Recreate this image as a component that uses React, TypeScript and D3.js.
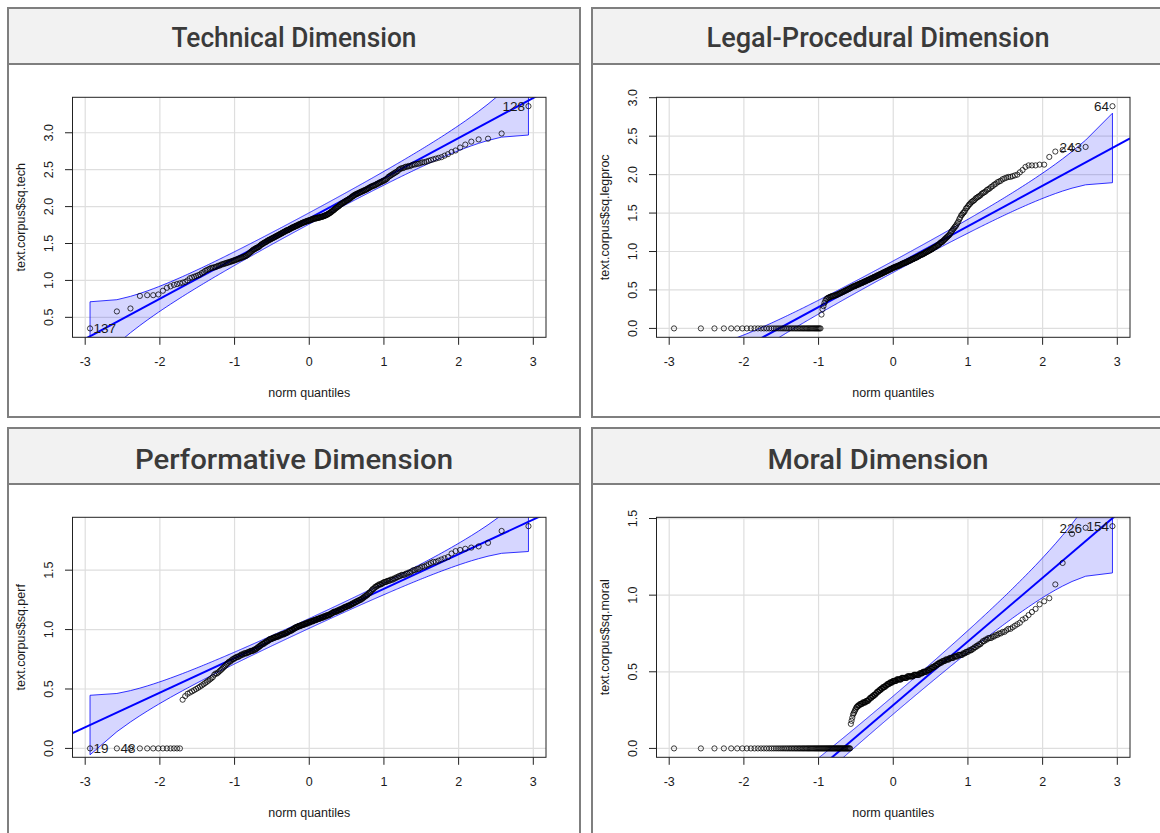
import React from "react"
import * as d3 from "d3"

// sorted sample values (n = 300 each)
const techValues = [
  0.35, 0.58, 0.62, 0.79, 0.80, 0.80, 0.81, 0.86, 0.90, 0.92,
  0.94, 0.95, 0.96, 0.97, 0.98, 1.00, 1.03, 1.04, 1.05, 1.06,
  1.07, 1.08, 1.10, 1.11, 1.13, 1.14, 1.15, 1.16, 1.17, 1.17,
  1.18, 1.18, 1.19, 1.20, 1.20, 1.21, 1.22, 1.22, 1.23, 1.23,
  1.24, 1.24, 1.25, 1.25, 1.26, 1.26, 1.27, 1.27, 1.28, 1.28,
  1.29, 1.29, 1.30, 1.30, 1.31, 1.31, 1.32, 1.32, 1.33, 1.33,
  1.34, 1.35, 1.36, 1.37, 1.38, 1.39, 1.40, 1.41, 1.42, 1.42,
  1.43, 1.44, 1.44, 1.45, 1.45, 1.46, 1.47, 1.48, 1.49, 1.49,
  1.50, 1.51, 1.51, 1.52, 1.52, 1.53, 1.54, 1.54, 1.55, 1.55,
  1.56, 1.56, 1.57, 1.57, 1.58, 1.58, 1.59, 1.59, 1.60, 1.60,
  1.61, 1.61, 1.62, 1.62, 1.63, 1.63, 1.64, 1.64, 1.65, 1.65,
  1.66, 1.66, 1.67, 1.67, 1.68, 1.68, 1.68, 1.69, 1.69, 1.70,
  1.70, 1.71, 1.71, 1.72, 1.72, 1.72, 1.73, 1.73, 1.74, 1.74,
  1.74, 1.75, 1.75, 1.76, 1.76, 1.76, 1.77, 1.77, 1.78, 1.78,
  1.78, 1.79, 1.79, 1.79, 1.80, 1.80, 1.80, 1.81, 1.81, 1.81,
  1.81, 1.82, 1.82, 1.82, 1.83, 1.83, 1.83, 1.84, 1.84, 1.84,
  1.84, 1.84, 1.85, 1.85, 1.85, 1.85, 1.85, 1.86, 1.86, 1.86,
  1.86, 1.87, 1.87, 1.87, 1.88, 1.88, 1.88, 1.89, 1.89, 1.90,
  1.90, 1.91, 1.91, 1.92, 1.93, 1.93, 1.94, 1.95, 1.95, 1.96,
  1.97, 1.98, 1.98, 1.99, 2.00, 2.00, 2.01, 2.02, 2.03, 2.03,
  2.04, 2.05, 2.05, 2.06, 2.06, 2.07, 2.08, 2.08, 2.09, 2.09,
  2.10, 2.11, 2.11, 2.12, 2.13, 2.14, 2.14, 2.15, 2.16, 2.16,
  2.17, 2.17, 2.18, 2.18, 2.19, 2.19, 2.20, 2.20, 2.21, 2.21,
  2.22, 2.22, 2.23, 2.23, 2.24, 2.25, 2.25, 2.26, 2.27, 2.27,
  2.28, 2.28, 2.29, 2.29, 2.30, 2.31, 2.31, 2.32, 2.33, 2.33,
  2.34, 2.35, 2.35, 2.36, 2.37, 2.38, 2.40, 2.41, 2.42, 2.43,
  2.44, 2.45, 2.46, 2.47, 2.48, 2.50, 2.51, 2.52, 2.52, 2.53,
  2.54, 2.54, 2.55, 2.55, 2.56, 2.57, 2.57, 2.58, 2.58, 2.59,
  2.60, 2.60, 2.61, 2.62, 2.63, 2.64, 2.65, 2.66, 2.67, 2.69,
  2.71, 2.74, 2.76, 2.80, 2.84, 2.88, 2.91, 2.92, 2.99, 3.36,
]

const legprocValues = [
  0, 0, 0, 0, 0, 0, 0, 0, 0, 0,
  0, 0, 0, 0, 0, 0, 0, 0, 0, 0,
  0, 0, 0, 0, 0, 0, 0, 0, 0, 0,
  0, 0, 0, 0, 0, 0, 0, 0, 0, 0,
  0, 0, 0, 0, 0, 0, 0, 0, 0, 0,
  0.18, 0.25, 0.29, 0.33, 0.36, 0.38, 0.39, 0.40, 0.40, 0.41,
  0.41, 0.42, 0.42, 0.42, 0.43, 0.43, 0.43, 0.44, 0.44, 0.45,
  0.45, 0.46, 0.46, 0.47, 0.47, 0.48, 0.48, 0.49, 0.49, 0.50,
  0.50, 0.51, 0.51, 0.52, 0.52, 0.53, 0.53, 0.54, 0.54, 0.55,
  0.55, 0.55, 0.56, 0.56, 0.57, 0.57, 0.57, 0.58, 0.58, 0.59,
  0.59, 0.59, 0.60, 0.60, 0.61, 0.61, 0.61, 0.62, 0.62, 0.63,
  0.63, 0.63, 0.64, 0.64, 0.65, 0.65, 0.65, 0.66, 0.66, 0.67,
  0.67, 0.67, 0.68, 0.68, 0.69, 0.69, 0.69, 0.70, 0.70, 0.71,
  0.71, 0.71, 0.72, 0.72, 0.73, 0.73, 0.73, 0.74, 0.74, 0.75,
  0.75, 0.75, 0.76, 0.76, 0.77, 0.77, 0.77, 0.78, 0.78, 0.79,
  0.79, 0.79, 0.80, 0.80, 0.80, 0.81, 0.81, 0.81, 0.82, 0.82,
  0.82, 0.83, 0.83, 0.84, 0.84, 0.84, 0.85, 0.85, 0.85, 0.86,
  0.86, 0.86, 0.87, 0.87, 0.88, 0.88, 0.88, 0.89, 0.89, 0.90,
  0.90, 0.90, 0.91, 0.91, 0.92, 0.92, 0.92, 0.93, 0.93, 0.94,
  0.94, 0.95, 0.95, 0.96, 0.96, 0.96, 0.97, 0.97, 0.98, 0.98,
  0.99, 0.99, 1.00, 1.00, 1.01, 1.01, 1.02, 1.02, 1.03, 1.03,
  1.04, 1.05, 1.05, 1.06, 1.06, 1.07, 1.08, 1.08, 1.09, 1.10,
  1.11, 1.12, 1.12, 1.13, 1.14, 1.15, 1.16, 1.17, 1.18, 1.19,
  1.20, 1.21, 1.22, 1.24, 1.26, 1.27, 1.29, 1.30, 1.32, 1.33,
  1.35, 1.37, 1.39, 1.42, 1.44, 1.47, 1.48, 1.50, 1.51, 1.53,
  1.56, 1.57, 1.59, 1.61, 1.62, 1.64, 1.65, 1.66, 1.67, 1.69,
  1.70, 1.71, 1.72, 1.73, 1.75, 1.76, 1.77, 1.78, 1.80, 1.81,
  1.82, 1.84, 1.85, 1.87, 1.88, 1.90, 1.91, 1.92, 1.94, 1.95,
  1.96, 1.97, 1.97, 1.98, 1.99, 2.00, 2.03, 2.06, 2.10, 2.12,
  2.12, 2.12, 2.13, 2.13, 2.23, 2.30, 2.32, 2.34, 2.36, 2.89,
]

const perfValues = [
  0, 0, 0, 0, 0, 0, 0, 0, 0, 0,
  0, 0, 0, 0.41, 0.44, 0.46, 0.47, 0.48, 0.49, 0.50,
  0.51, 0.52, 0.53, 0.54, 0.55, 0.56, 0.57, 0.58, 0.59, 0.60,
  0.62, 0.63, 0.63, 0.64, 0.65, 0.66, 0.67, 0.68, 0.69, 0.70,
  0.71, 0.72, 0.73, 0.73, 0.74, 0.75, 0.75, 0.76, 0.76, 0.77,
  0.77, 0.77, 0.78, 0.78, 0.79, 0.79, 0.79, 0.80, 0.80, 0.80,
  0.80, 0.81, 0.81, 0.81, 0.82, 0.82, 0.82, 0.82, 0.83, 0.83,
  0.83, 0.84, 0.84, 0.85, 0.85, 0.86, 0.86, 0.87, 0.87, 0.88,
  0.88, 0.88, 0.89, 0.89, 0.90, 0.90, 0.90, 0.91, 0.91, 0.92,
  0.92, 0.92, 0.92, 0.93, 0.93, 0.93, 0.93, 0.94, 0.94, 0.94,
  0.94, 0.94, 0.95, 0.95, 0.95, 0.95, 0.96, 0.96, 0.96, 0.96,
  0.96, 0.97, 0.97, 0.97, 0.97, 0.98, 0.98, 0.98, 0.99, 0.99,
  0.99, 0.99, 1.00, 1.00, 1.00, 1.01, 1.01, 1.01, 1.02, 1.02,
  1.02, 1.02, 1.03, 1.03, 1.03, 1.03, 1.03, 1.04, 1.04, 1.04,
  1.04, 1.04, 1.05, 1.05, 1.05, 1.05, 1.05, 1.06, 1.06, 1.06,
  1.06, 1.06, 1.07, 1.07, 1.07, 1.07, 1.07, 1.08, 1.08, 1.08,
  1.08, 1.08, 1.09, 1.09, 1.09, 1.09, 1.09, 1.10, 1.10, 1.10,
  1.10, 1.10, 1.11, 1.11, 1.11, 1.11, 1.11, 1.12, 1.12, 1.12,
  1.12, 1.12, 1.13, 1.13, 1.13, 1.14, 1.14, 1.14, 1.15, 1.15,
  1.15, 1.15, 1.15, 1.16, 1.16, 1.16, 1.16, 1.17, 1.17, 1.17,
  1.17, 1.18, 1.18, 1.18, 1.19, 1.19, 1.19, 1.19, 1.20, 1.20,
  1.20, 1.20, 1.21, 1.21, 1.21, 1.22, 1.22, 1.22, 1.23, 1.23,
  1.23, 1.24, 1.24, 1.24, 1.25, 1.25, 1.25, 1.26, 1.26, 1.27,
  1.27, 1.28, 1.28, 1.29, 1.29, 1.30, 1.31, 1.31, 1.32, 1.33,
  1.34, 1.34, 1.35, 1.36, 1.36, 1.37, 1.37, 1.38, 1.38, 1.38,
  1.39, 1.39, 1.40, 1.40, 1.40, 1.41, 1.41, 1.41, 1.42, 1.42,
  1.42, 1.43, 1.43, 1.44, 1.44, 1.45, 1.45, 1.46, 1.46, 1.46,
  1.47, 1.47, 1.48, 1.48, 1.49, 1.50, 1.50, 1.51, 1.51, 1.52,
  1.53, 1.53, 1.54, 1.55, 1.56, 1.57, 1.57, 1.58, 1.59, 1.60,
  1.61, 1.64, 1.66, 1.67, 1.68, 1.69, 1.70, 1.73, 1.83, 1.87,
]

const moralValues = [
  0, 0, 0, 0, 0, 0, 0, 0, 0, 0,
  0, 0, 0, 0, 0, 0, 0, 0, 0, 0,
  0, 0, 0, 0, 0, 0, 0, 0, 0, 0,
  0, 0, 0, 0, 0, 0, 0, 0, 0, 0,
  0, 0, 0, 0, 0, 0, 0, 0, 0, 0,
  0, 0, 0, 0, 0, 0, 0, 0, 0, 0,
  0, 0, 0, 0, 0, 0, 0, 0, 0, 0,
  0, 0, 0, 0, 0, 0, 0, 0, 0, 0,
  0, 0, 0, 0, 0, 0.16, 0.18, 0.20, 0.22, 0.23,
  0.24, 0.25, 0.26, 0.27, 0.27, 0.28, 0.28, 0.28, 0.29, 0.29,
  0.29, 0.29, 0.30, 0.30, 0.30, 0.30, 0.30, 0.31, 0.31, 0.31,
  0.31, 0.32, 0.32, 0.33, 0.33, 0.33, 0.34, 0.34, 0.34, 0.35,
  0.35, 0.35, 0.36, 0.36, 0.37, 0.37, 0.37, 0.38, 0.38, 0.38,
  0.39, 0.39, 0.39, 0.40, 0.40, 0.40, 0.40, 0.41, 0.41, 0.41,
  0.42, 0.42, 0.42, 0.42, 0.43, 0.43, 0.43, 0.43, 0.43, 0.44,
  0.44, 0.44, 0.44, 0.44, 0.44, 0.45, 0.45, 0.45, 0.45, 0.45,
  0.45, 0.45, 0.45, 0.46, 0.46, 0.46, 0.46, 0.46, 0.46, 0.46,
  0.46, 0.46, 0.47, 0.47, 0.47, 0.47, 0.47, 0.47, 0.47, 0.47,
  0.47, 0.47, 0.48, 0.48, 0.48, 0.48, 0.48, 0.48, 0.48, 0.48,
  0.48, 0.49, 0.49, 0.49, 0.49, 0.49, 0.50, 0.50, 0.50, 0.50,
  0.50, 0.50, 0.51, 0.51, 0.51, 0.51, 0.52, 0.52, 0.52, 0.53,
  0.53, 0.53, 0.53, 0.54, 0.54, 0.54, 0.55, 0.55, 0.55, 0.56,
  0.56, 0.56, 0.56, 0.57, 0.57, 0.57, 0.57, 0.58, 0.58, 0.58,
  0.58, 0.58, 0.59, 0.59, 0.59, 0.59, 0.59, 0.60, 0.60, 0.60,
  0.60, 0.60, 0.61, 0.61, 0.61, 0.61, 0.61, 0.62, 0.62, 0.62,
  0.63, 0.63, 0.63, 0.64, 0.64, 0.64, 0.65, 0.65, 0.66, 0.66,
  0.67, 0.67, 0.68, 0.68, 0.69, 0.70, 0.70, 0.71, 0.71, 0.72,
  0.72, 0.72, 0.73, 0.73, 0.74, 0.74, 0.75, 0.75, 0.76, 0.76,
  0.77, 0.78, 0.78, 0.79, 0.80, 0.81, 0.82, 0.84, 0.85, 0.87,
  0.89, 0.91, 0.94, 0.96, 0.98, 1.07, 1.21, 1.40, 1.44, 1.45,
]

const titles = [
  "Technical Dimension",
  "Legal-Procedural Dimension",
  "Performative Dimension",
  "Moral Dimension",
]
const titleWidths = [245, 343, 318, 221]
const yAxisTitles = [
  "text.corpus$sq.tech",
  "text.corpus$sq.legproc",
  "text.corpus$sq.perf",
  "text.corpus$sq.moral",
]
const xTicks = [-3, -2, -1, 0, 1, 2, 3]
const techTicks = [0.5, 1.0, 1.5, 2.0, 2.5, 3.0]
const legprocTicks = [0.0, 0.5, 1.0, 1.5, 2.0, 2.5, 3.0]
const perfTicks = [0.0, 0.5, 1.0, 1.5]
const moralTicks = [0.0, 0.5, 1.0, 1.5]

// reference line (intercept, slope) as drawn in each plot
const intercepts = [1.84, 0.803, 1.052, 0.2826]
const slopes = [0.544, 0.526, 0.2914, 0.4155]

// labelled outliers: [index in sorted values, label]
const techLabels: [number, string][] = [[0, "137"], [299, "128"]]
const legprocLabels: [number, string][] = [[298, "243"], [299, "64"]]
const perfLabels: [number, string][] = [[0, "19"], [1, "48"]]
const moralLabels: [number, string][] = [[298, "226"], [299, "154"]]

const qnorm = (p: number) => {
  const a = [-39.69683028665376, 220.9460984245205, -275.9285104469687, 138.357751867269, -30.66479806614716, 2.506628277459239]
  const b = [-54.47609879822406, 161.5858589980243, -155.6989798598866, 66.80131188771972, -13.28068155288572]
  const c = [-0.007784894002430293, -0.3223964580411365, -2.400758277161838, -2.549732539343734, 4.374664141464968, 2.938163982698783]
  const d = [0.007784695709041462, 0.3224671290700398, 2.445134137142996, 3.754408661907416]
  const tail = (q: number) =>
    (((((c[0] * q + c[1]) * q + c[2]) * q + c[3]) * q + c[4]) * q + c[5]) /
    ((((d[0] * q + d[1]) * q + d[2]) * q + d[3]) * q + 1)
  if (p < 0.02425) return tail(Math.sqrt(-2 * Math.log(p)))
  if (p > 1 - 0.02425) return -tail(Math.sqrt(-2 * Math.log(1 - p)))
  const q = p - 0.5
  const r = q * q
  return (
    ((((((a[0] * r + a[1]) * r + a[2]) * r + a[3]) * r + a[4]) * r + a[5]) * q) /
    (((((b[0] * r + b[1]) * r + b[2]) * r + b[3]) * r + b[4]) * r + 1)
  )
}
const dnorm = (z: number) => Math.exp(-z * z / 2) / Math.sqrt(2 * Math.PI)

const panelW = 572
const plotW = 473.5
const plotH = 240
const axisFont = "'Liberation Sans', Arial, sans-serif"
const ink = "#1a1a1a"

const QQPanel = ({ idx, left, top, values, yTicks, labels }) => {
  const bottomRow = top > 200
  const sorted = [...values].sort(d3.ascending)
  const n = sorted.length
  const probs = sorted.map((_, i) => (i + 0.5) / n)
  const zs = probs.map(qnorm)

  const x0 = left + 64.5
  const x1 = x0 + plotW
  const y0 = top + 89.3
  const y1 = y0 + plotH

  const [zMin, zMax] = d3.extent(zs)
  const zPad = (zMax - zMin) * 0.04
  const [vMin, vMax] = d3.extent(sorted)
  const vPad = (vMax - vMin) * 0.04
  const xScale = d3.scaleLinear().domain([zMin - zPad, zMax + zPad]).range([x0, x1])
  const yScale = d3.scaleLinear().domain([vMin - vPad, vMax + vPad]).range([y1, y0])

  const b0 = intercepts[idx]
  const b1 = slopes[idx]
  const crit = qnorm(0.975)
  const band = zs.map((z, i) => {
    const fit = b0 + b1 * z
    const se = (b1 / dnorm(z)) * Math.sqrt((probs[i] * (1 - probs[i])) / n)
    return { z, upper: fit + crit * se, lower: fit - crit * se }
  })
  const envelope = d3
    .area<any>()
    .x((d) => xScale(d.z))
    .y0((d) => yScale(d.lower))
    .y1((d) => yScale(d.upper))(band)
  const edge = (key: string) =>
    d3.line<any>().x((d) => xScale(d.z)).y((d) => yScale(d[key]))(band)
  const xd = xScale.domain()
  const clipId = `clip-${idx}`

  return (
    <g>
      <rect x={left} y={top} width={panelW} height={bottomRow ? 420 : 409} fill="#fff" stroke="#7f7f7f" strokeWidth={2} />
      <rect x={left} y={top} width={panelW} height={56} fill="#f2f2f2" stroke="#7f7f7f" strokeWidth={2} />
      <text
        x={left + panelW / 2}
        y={top + (bottomRow ? 41 : 39)}
        textAnchor="middle"
        fontFamily="Roboto, 'Noto Sans', sans-serif"
        fontWeight={500}
        fontSize={27}
        fill="#3a3a3a"
        textLength={titleWidths[idx]}
        lengthAdjust="spacingAndGlyphs"
      >
        {titles[idx]}
      </text>

      <defs>
        <clipPath id={clipId}>
          <rect x={x0} y={y0} width={plotW} height={plotH} />
        </clipPath>
      </defs>

      {xTicks.map((t) => (
        <line key={"gx" + t} x1={xScale(t)} x2={xScale(t)} y1={y0} y2={y1} stroke="#dedede" strokeWidth={1.2} />
      ))}
      {yTicks.map((t) => (
        <line key={"gy" + t} x1={x0} x2={x1} y1={yScale(t)} y2={yScale(t)} stroke="#dedede" strokeWidth={1.2} />
      ))}

      <g clipPath={`url(#${clipId})`}>
        <path d={envelope} fill="rgba(0,0,255,0.16)" stroke="none" />
        <path d={edge("upper")} fill="none" stroke="#0000ff" strokeWidth={0.8} />
        <path d={edge("lower")} fill="none" stroke="#0000ff" strokeWidth={0.8} />
        <line
          x1={xScale(band[0].z)} x2={xScale(band[0].z)}
          y1={yScale(band[0].upper)} y2={yScale(band[0].lower)}
          stroke="#0000ff" strokeWidth={0.8}
        />
        <line
          x1={xScale(band[n - 1].z)} x2={xScale(band[n - 1].z)}
          y1={yScale(band[n - 1].upper)} y2={yScale(band[n - 1].lower)}
          stroke="#0000ff" strokeWidth={0.8}
        />
        <line
          x1={xScale(xd[0])} x2={xScale(xd[1])}
          y1={yScale(b0 + b1 * xd[0])} y2={yScale(b0 + b1 * xd[1])}
          stroke="#0000ff" strokeWidth={2}
        />
        {sorted.map((v, i) => (
          <circle key={i} cx={xScale(zs[i])} cy={yScale(v)} r={2.6} fill="none" stroke="#000" strokeWidth={0.75} />
        ))}
      </g>

      {labels.map(([i, txt]) => {
        const right = zs[i] < 0
        return (
          <text
            key={txt}
            x={xScale(zs[i]) + (right ? 3.5 : -3.5)}
            y={yScale(sorted[i])}
            dy="0.36em"
            textAnchor={right ? "start" : "end"}
            fontFamily={axisFont}
            fontSize={13.5}
            fill={ink}
          >
            {txt}
          </text>
        )
      })}

      <rect x={x0} y={y0} width={plotW} height={plotH} fill="none" stroke="#222" strokeWidth={1} />

      {xTicks.map((t) => (
        <g key={"tx" + t}>
          <line x1={xScale(t)} x2={xScale(t)} y1={y1} y2={y1 + 7.5} stroke="#222" strokeWidth={1} />
          <text x={xScale(t)} y={y1 + 28.5} textAnchor="middle" fontFamily={axisFont} fontSize={12.5} fill={ink}>
            {t}
          </text>
        </g>
      ))}
      {yTicks.map((t) => (
        <g key={"ty" + t}>
          <line x1={x0 - 7.5} x2={x0} y1={yScale(t)} y2={yScale(t)} stroke="#222" strokeWidth={1} />
          <text
            transform={`translate(${x0 - 24},${yScale(t)}) rotate(-90)`}
            textAnchor="middle"
            dy="0.36em"
            fontFamily={axisFont}
            fontSize={12.5}
            fill={ink}
          >
            {d3.format(".1f")(t)}
          </text>
        </g>
      ))}

      <text x={(x0 + x1) / 2} y={y1 + 59.5} textAnchor="middle" fontFamily={axisFont} fontSize={12.5} fill={ink}>
        norm quantiles
      </text>
      <text
        transform={`translate(${x0 - 52},${(y0 + y1) / 2}) rotate(-90)`}
        textAnchor="middle"
        dy="0.36em"
        fontFamily={axisFont}
        fontSize={12.5}
        fill={ink}
      >
        {yAxisTitles[idx]}
      </text>
    </g>
  )
}

const App = () => {
  return (
    <svg width={1160} height={833} style={{ position: "absolute", left: 0, top: 0, background: "#fff" }}>
      <QQPanel idx={0} left={8} top={8} values={techValues} yTicks={techTicks} labels={techLabels} />
      <QQPanel idx={1} left={592} top={8} values={legprocValues} yTicks={legprocTicks} labels={legprocLabels} />
      <QQPanel idx={2} left={8} top={428} values={perfValues} yTicks={perfTicks} labels={perfLabels} />
      <QQPanel idx={3} left={592} top={428} values={moralValues} yTicks={moralTicks} labels={moralLabels} />
    </svg>
  )
}

export default App
